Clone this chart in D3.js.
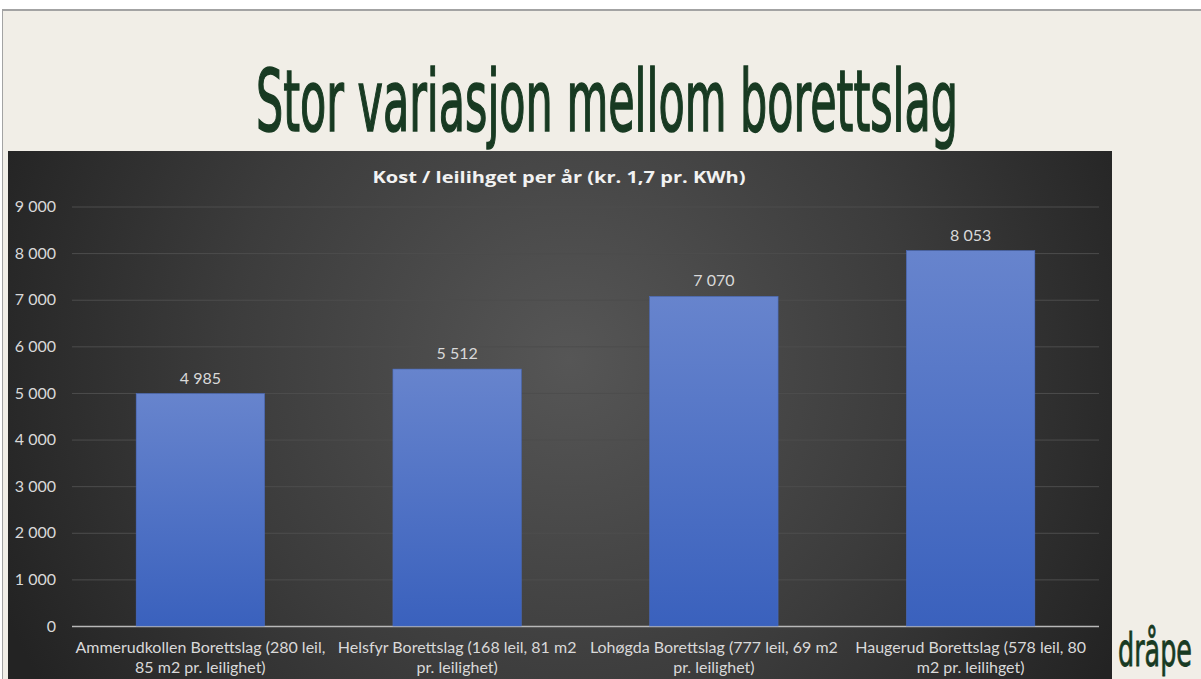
<!DOCTYPE html>
<html>
<head>
<meta charset="utf-8">
<script src="https://cdn.jsdelivr.net/npm/d3@7"></script>
<style>
  html, body { margin: 0; padding: 0; background: #fff; }
  svg { display: block; }
</style>
</head>
<body>
<svg id="chart" width="1201" height="679"></svg>
<script>
// data
var categories = [
	[ 'Ammerudkollen Borettslag (280 leil,', '85 m2 pr. leilighet)' ],
	[ 'Helsfyr Borettslag (168 leil, 81 m2', 'pr. leilighet)' ],
	[ 'Lohøgda Borettslag (777 leil, 69 m2', 'pr. leilighet)' ],
	[ 'Haugerud Borettslag (578 leil, 80', 'm2 pr. leilihget)' ]
];
var costs = [ 4985, 5512, 7070, 8053 ];
var yTicks = [ 0, 1000, 2000, 3000, 4000, 5000, 6000, 7000, 8000, 9000 ];
var slideTitle = 'Stor variasjon mellom borettslag';
var chartTitle = 'Kost / leilihget per år (kr. 1,7 pr. KWh)';
var logo = 'dråpe';

var nb = d3.formatLocale( { decimal: ',', thousands: '\u00a0', grouping: [ 3 ], currency: [ '', ' kr' ] } );
var fmt = nb.format( ',d' );

var svg = d3.select( '#chart' );
var defs = svg.append( 'defs' );

var panelGrad = defs.append( 'radialGradient' )
	.attr( 'id', 'panelGrad' )
	.attr( 'gradientUnits', 'userSpaceOnUse' )
	.attr( 'cx', 570 ).attr( 'cy', 360 ).attr( 'r', 620 );
panelGrad.append( 'stop' ).attr( 'offset', '0%' ).attr( 'stop-color', '#565656' );
panelGrad.append( 'stop' ).attr( 'offset', '55%' ).attr( 'stop-color', '#3c3c3c' );
panelGrad.append( 'stop' ).attr( 'offset', '100%' ).attr( 'stop-color', '#232323' );

var barGrad = defs.append( 'linearGradient' )
	.attr( 'id', 'barGrad' )
	.attr( 'x1', 0 ).attr( 'y1', 0 ).attr( 'x2', 0 ).attr( 'y2', 1 );
barGrad.append( 'stop' ).attr( 'offset', '0%' ).attr( 'stop-color', '#6784cd' );
barGrad.append( 'stop' ).attr( 'offset', '100%' ).attr( 'stop-color', '#3a61bd' );

// slide background
svg.append( 'rect' ).attr( 'x', 0 ).attr( 'y', 0 ).attr( 'width', 1201 ).attr( 'height', 679 ).attr( 'fill', '#ffffff' );
svg.append( 'rect' ).attr( 'x', 2 ).attr( 'y', 9 ).attr( 'width', 1199 ).attr( 'height', 670 ).attr( 'fill', '#a3a3a3' );
svg.append( 'rect' ).attr( 'x', 3 ).attr( 'y', 11 ).attr( 'width', 1198 ).attr( 'height', 668 ).attr( 'fill', '#f1eee7' );

svg.append( 'text' )
	.attr( 'x', 607 ).attr( 'y', 131 )
	.attr( 'text-anchor', 'middle' )
	.attr( 'textLength', 702 )
	.attr( 'lengthAdjust', 'spacingAndGlyphs' )
	.style( 'font-family', '"DejaVu Sans Condensed", "DejaVu Sans", sans-serif' )
	.style( 'font-stretch', 'condensed' )
	.style( 'font-size', '86px' )
	.attr( 'fill', '#183a22' )
	.attr( 'stroke', '#183a22' )
	.attr( 'stroke-width', 1.6 )
	.text( slideTitle );

svg.append( 'text' )
	.attr( 'x', 1155 ).attr( 'y', 666 )
	.attr( 'text-anchor', 'middle' )
	.attr( 'textLength', 74 )
	.attr( 'lengthAdjust', 'spacingAndGlyphs' )
	.style( 'font-family', '"DejaVu Sans Condensed", "DejaVu Sans", sans-serif' )
	.style( 'font-size', '46px' )
	.attr( 'fill', '#183a22' )
	.attr( 'stroke', '#183a22' )
	.attr( 'stroke-width', 0.8 )
	.text( logo );

// chart panel
var panel = { x: 8, y: 151, w: 1104, h: 528 };
svg.append( 'rect' )
	.attr( 'x', panel.x ).attr( 'y', panel.y )
	.attr( 'width', panel.w ).attr( 'height', panel.h )
	.attr( 'fill', 'url(#panelGrad)' );

svg.append( 'text' )
	.attr( 'x', 559 ).attr( 'y', 183 )
	.attr( 'text-anchor', 'middle' )
	.attr( 'textLength', 373 )
	.attr( 'lengthAdjust', 'spacingAndGlyphs' )
	.style( 'font-family', '"Open Sans", sans-serif' )
	.style( 'font-weight', 'bold' )
	.style( 'font-size', '16px' )
	.attr( 'fill', '#f2f2f2' )
	.text( chartTitle );

var margin = { left: 72, right: 1099, top: 206.5, bottom: 626 };

var x = d3.scaleBand()
	.domain( d3.range( costs.length ) )
	.range( [ margin.left, margin.right ] )
	.paddingInner( 0.5 )
	.paddingOuter( 0.25 );

var y = d3.scaleLinear()
	.domain( [ 0, 9000 ] )
	.range( [ margin.bottom, margin.top ] );

// gridlines
var grid = svg.append( 'g' )
	.attr( 'transform', 'translate(' + margin.left + ',0)' )
	.call( d3.axisLeft( y ).tickValues( yTicks ).tickSize( -( margin.right - margin.left ) ).tickFormat( '' ) );
grid.select( '.domain' ).remove();
grid.selectAll( '.tick line' )
	.attr( 'stroke', function( d ) { return d === 0 ? '#b8b8b8' : '#4d4d4d'; } )
	.attr( 'stroke-width', function( d ) { return d === 0 ? 1.3 : 1; } );

// y labels
var yAxis = svg.append( 'g' )
	.attr( 'transform', 'translate(56,0)' )
	.call( d3.axisLeft( y ).tickValues( yTicks ).tickSize( 0 ).tickPadding( 0 ).tickFormat( fmt ) );
yAxis.select( '.domain' ).remove();
yAxis.selectAll( 'text' )
	.attr( 'fill', '#d9d9d9' )
	.style( 'font-family', 'Lato, "Open Sans", sans-serif' )
	.style( 'font-size', '16px' );

// bars
svg.append( 'g' ).selectAll( 'rect' )
	.data( costs )
	.join( 'rect' )
	.attr( 'x', function( d, i ) { return x( i ); } )
	.attr( 'y', function( d ) { return y( d ); } )
	.attr( 'width', x.bandwidth() )
	.attr( 'height', function( d ) { return y( 0 ) - y( d ); } )
	.attr( 'fill', 'url(#barGrad)' )
	.attr( 'stroke', '#4a6cbf' )
	.attr( 'stroke-width', 0.6 );

// value labels
svg.append( 'g' ).selectAll( 'text' )
	.data( costs )
	.join( 'text' )
	.attr( 'x', function( d, i ) { return x( i ) + x.bandwidth() / 2; } )
	.attr( 'y', function( d ) { return y( d ) - 10; } )
	.attr( 'text-anchor', 'middle' )
	.attr( 'fill', '#d9d9d9' )
	.style( 'font-family', 'Lato, "Open Sans", sans-serif' )
	.style( 'font-size', '16px' )
	.text( fmt );

// category labels
var xl = svg.append( 'g' ).selectAll( 'text' )
	.data( categories )
	.join( 'text' )
	.attr( 'text-anchor', 'middle' )
	.attr( 'fill', '#d9d9d9' )
	.style( 'font-family', 'Lato, "Open Sans", sans-serif' )
	.style( 'font-size', '16px' );
xl.selectAll( 'tspan' )
	.data( function( d ) { return d; } )
	.join( 'tspan' )
	.attr( 'x', function() {
		var i = categories.indexOf( d3.select( this.parentNode ).datum() );
		return x( i ) + x.bandwidth() / 2;
	} )
	.attr( 'y', function( d, j ) { return 653 + j * 20; } )
	.text( function( d ) { return d; } );
</script>
</body>
</html>
